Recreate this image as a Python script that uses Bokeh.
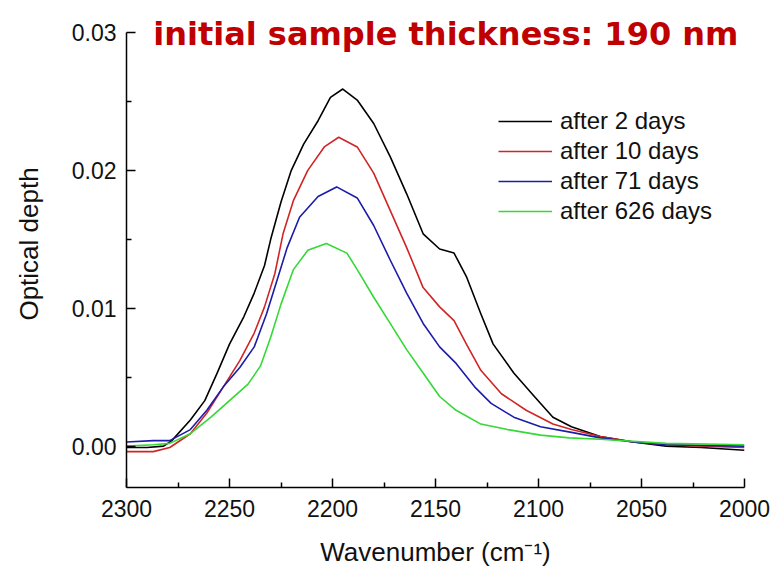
from bokeh.plotting import figure
from bokeh.models import Range1d, FixedTicker, NumeralTickFormatter, Legend, LegendItem, Label
from bokeh.embed import file_html
from bokeh.resources import INLINE

# ---- data ----
wn_2d = [2300, 2290, 2282, 2278, 2269, 2262, 2256, 2250, 2243, 2238, 2233, 2230, 2225, 2220, 2214,
         2207, 2201, 2195, 2188, 2180, 2172, 2164, 2156, 2148, 2141, 2135, 2128, 2122, 2112, 2102,
         2093, 2084, 2070, 2054, 2038, 2021, 2000]
od_2d = [-0.0001, -0.0001, 0.0000, 0.0004, 0.0019, 0.0033, 0.0053, 0.0074, 0.0094, 0.0111, 0.0131,
         0.0150, 0.0177, 0.0200, 0.0219, 0.0236, 0.0253, 0.0259, 0.0251, 0.0234, 0.0210, 0.0183,
         0.0154, 0.0143, 0.0140, 0.0123, 0.0096, 0.0074, 0.0053, 0.0036, 0.0021, 0.0014, 0.0007,
         0.0003, 0.0000, -0.0001, -0.0003]

wn_10d = [2300, 2287, 2279, 2269, 2261, 2253, 2245, 2238, 2233, 2228, 2224, 2219, 2212, 2204, 2197,
          2188, 2180, 2172, 2164, 2156, 2148, 2141, 2135, 2128, 2118, 2106, 2093, 2084, 2070, 2054,
          2038, 2020, 2000]
od_10d = [-0.0004, -0.0004, -0.0001, 0.0009, 0.0024, 0.0043, 0.0062, 0.0082, 0.0101, 0.0125, 0.0154,
          0.0178, 0.0200, 0.0217, 0.0224, 0.0217, 0.0198, 0.0171, 0.0144, 0.0115, 0.0101, 0.0091,
          0.0074, 0.0055, 0.0038, 0.0026, 0.0016, 0.0012, 0.0007, 0.0003, 0.0001, 0.0000, -0.0001]

wn_71d = [2300, 2287, 2279, 2269, 2261, 2253, 2245, 2238, 2232, 2227, 2222, 2216, 2207, 2198, 2188,
          2180, 2172, 2164, 2156, 2148, 2140, 2131, 2123, 2112, 2099, 2084, 2070, 2054, 2038, 2000]
od_71d = [0.0003, 0.0004, 0.0004, 0.0012, 0.0026, 0.0043, 0.0057, 0.0072, 0.0096, 0.0120, 0.0144,
          0.0166, 0.0181, 0.0188, 0.0180, 0.0160, 0.0135, 0.0111, 0.0089, 0.0072, 0.0060, 0.0043,
          0.0031, 0.0021, 0.0014, 0.0010, 0.0006, 0.0003, 0.0001, 0.0000]

wn_626d = [2300, 2287, 2279, 2269, 2259, 2250, 2241, 2235, 2230, 2225, 2219, 2212, 2203, 2193, 2188,
           2180, 2172, 2164, 2156, 2148, 2140, 2128, 2115, 2099, 2085, 2070, 2038, 2000]
od_626d = [0.0000, 0.0001, 0.0002, 0.0009, 0.0021, 0.0033, 0.0045, 0.0058, 0.0079, 0.0103, 0.0128,
           0.0142, 0.0147, 0.0140, 0.0128, 0.0108, 0.0089, 0.0070, 0.0053, 0.0036, 0.0026, 0.0016,
           0.0012, 0.0008, 0.0006, 0.0005, 0.0002, 0.0001]

series_labels = ["after 2 days", "after 10 days", "after 71 days", "after 626 days"]
series_colors = ["#000000", "#d02525", "#1c1ca8", "#35d835"]

x_major = [2300, 2250, 2200, 2150, 2100, 2050, 2000]
x_minor = [2275, 2225, 2175, 2125, 2075, 2025]
y_major = [0.00, 0.01, 0.02, 0.03]
y_minor = [0.005, 0.015, 0.025]
y_axis_min, y_axis_max = -0.003, 0.03

title_text = "initial sample thickness: 190 nm"

# ---- figure ----
p = figure(width=776, height=570, output_backend="svg", toolbar_location=None,
           x_range=Range1d(2300, 2000), y_range=Range1d(y_axis_min, 0.03232),
           min_border_left=126, min_border_right=32, min_border_top=0, min_border_bottom=83)
p.outline_line_color = None
p.xgrid.visible = False
p.ygrid.visible = False
p.background_fill_color = "white"
p.border_fill_color = "white"

font = "Liberation Sans"
for ax in (p.xaxis[0], p.yaxis[0]):
    ax.major_tick_in = 9
    ax.major_tick_out = 0
    ax.minor_tick_in = 5
    ax.minor_tick_out = 0
    ax.axis_line_width = 1.5
    ax.major_tick_line_width = 1.5
    ax.minor_tick_line_width = 1.5
    ax.major_label_text_font = font
    ax.major_label_text_font_size = "23px"
    ax.major_label_text_color = "#111111"
    ax.axis_label_text_font = font
    ax.axis_label_text_font_size = "26px"
    ax.axis_label_text_font_style = "normal"
    ax.axis_label_text_color = "#111111"

p.yaxis.bounds = (y_axis_min, y_axis_max)
p.xaxis.ticker = FixedTicker(ticks=x_major, minor_ticks=x_minor)
p.yaxis.ticker = FixedTicker(ticks=y_major, minor_ticks=y_minor)
p.yaxis.formatter = NumeralTickFormatter(format="0.00")
p.xaxis.axis_label = "Wavenumber (cm\u207b\u00b9)"
p.yaxis.axis_label = "Optical depth"
p.xaxis.major_label_standoff = 12
p.yaxis.major_label_standoff = 10
p.xaxis.axis_label_standoff = 17
p.yaxis.axis_label_standoff = 25

renderers = []
for wn, od, col in [(wn_2d, od_2d, series_colors[0]), (wn_10d, od_10d, series_colors[1]),
                    (wn_71d, od_71d, series_colors[2]), (wn_626d, od_626d, series_colors[3])]:
    renderers.append(p.line(wn, od, line_color=col, line_width=1.6, line_join="round"))

legend = Legend(items=[LegendItem(label=l, renderers=[r]) for l, r in zip(series_labels, renderers)],
                location=(372, 261), border_line_color=None, background_fill_alpha=0,
                padding=0, margin=0, spacing=0, glyph_width=54, glyph_height=30,
                label_height=30, label_standoff=8,
                label_text_font=font, label_text_font_size="24px", label_text_color="#111111")
p.add_layout(legend)

title = Label(x=2145, y=0.0299, text=title_text, text_align="center", text_baseline="middle",
              text_font="DejaVu Sans", text_font_style="bold", text_font_size="32px",
              text_color="#c00000")
p.add_layout(title)

open("out.html", "w").write(file_html(p, INLINE))
